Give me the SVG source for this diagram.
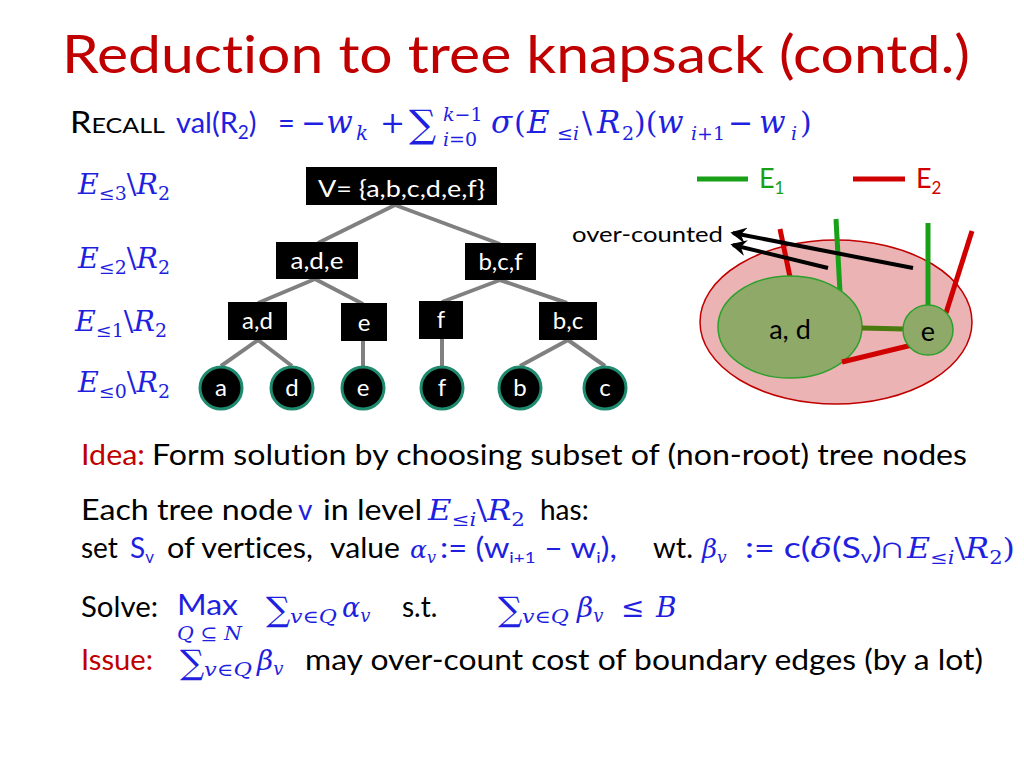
<svg xmlns="http://www.w3.org/2000/svg" width="1024" height="768" viewBox="0 0 1024 768">
<defs>
<style>
.s{font-family:Lato,"Open Sans","Liberation Sans",sans-serif;font-variant-ligatures:none}
.m{font-family:"DejaVu Serif","Liberation Serif",serif;font-style:italic}
.mu{font-family:"DejaVu Serif","Liberation Serif",serif;font-style:normal}
.b{fill:#1f1fe0}
.r{fill:#c00000}
.k{fill:#000}
.w{fill:#fff}
.box{fill:#000}
.leaf{fill:#000;stroke:#1e8a6e;stroke-width:3}
.edge{stroke:#808080;stroke-width:4;fill:none}
.g{stroke:#19a019;stroke-width:5}
.rd{stroke:#d00000;stroke-width:5}
</style>
<marker id="ah" viewBox="0 0 12 12" refX="10" refY="6" markerWidth="4" markerHeight="4" orient="auto" markerUnits="strokeWidth">
<path d="M12,6 L0,0 L4,6 L0,12 Z" fill="#000"/>
</marker>
</defs>
<rect width="1024" height="768" fill="#fff"/>

<text class="s r" x="62" y="73" font-size="52" textLength="908" lengthAdjust="spacingAndGlyphs">Reduction to tree knapsack (contd.)</text>

<g id="recall">
<text class="s k" x="70" y="133" font-size="30" textLength="95" lengthAdjust="spacingAndGlyphs">R<tspan font-size="22">ECALL</tspan></text>
<text class="s b" x="176" y="133" font-size="29">val(R<tspan font-size="19" dy="6">2</tspan><tspan dy="-6">)</tspan></text>
<text class="s b" x="278" y="133" font-size="29">=</text>
<text class="mu b" x="301" y="133" font-size="30">−<tspan class="m" font-size="31">w</tspan></text>
<text class="m b" x="356" y="140" font-size="20">k</text>
<text class="mu b" x="380" y="133" font-size="30">+</text>
<text class="mu b" x="409" y="137" font-size="38">∑</text>
<text class="m b" x="443" y="121" font-size="19">k<tspan class="mu">−1</tspan></text>
<text class="m b" x="443" y="146" font-size="19">i<tspan class="mu">=0</tspan></text>
<text class="m b" x="491" y="133" font-size="31">σ</text>
<text class="mu b" x="514" y="133" font-size="30">(</text>
<text class="m b" x="527" y="133" font-size="31">E</text>
<text class="mu b" x="557" y="140" font-size="19">≤<tspan class="m">i</tspan></text>
<text class="mu b" x="582" y="133" font-size="30">\</text>
<text class="m b" x="597" y="133" font-size="31">R</text>
<text class="mu b" x="622" y="140" font-size="19">2</text>
<text class="mu b" x="634" y="133" font-size="30">)(</text>
<text class="m b" x="657" y="133" font-size="31">w</text>
<text class="m b" x="691" y="140" font-size="19">i<tspan class="mu">+1</tspan></text>
<text class="mu b" x="728" y="133" font-size="30">−</text>
<text class="m b" x="759" y="133" font-size="31">w</text>
<text class="m b" x="791" y="140" font-size="19">i</text>
<text class="mu b" x="800" y="133" font-size="30">)</text>
</g>

<g id="levels">
<text class="m b" x="78" y="194" font-size="27" textLength="92" lengthAdjust="spacingAndGlyphs">E<tspan class="mu" font-size="18" dy="6">≤3</tspan><tspan class="mu" dy="-6">\</tspan>R<tspan class="mu" font-size="18" dy="6">2</tspan></text>
<text class="m b" x="78" y="268" font-size="27" textLength="92" lengthAdjust="spacingAndGlyphs">E<tspan class="mu" font-size="18" dy="6">≤2</tspan><tspan class="mu" dy="-6">\</tspan>R<tspan class="mu" font-size="18" dy="6">2</tspan></text>
<text class="m b" x="75" y="331" font-size="27" textLength="92" lengthAdjust="spacingAndGlyphs">E<tspan class="mu" font-size="18" dy="6">≤1</tspan><tspan class="mu" dy="-6">\</tspan>R<tspan class="mu" font-size="18" dy="6">2</tspan></text>
<text class="m b" x="78" y="392" font-size="27" textLength="92" lengthAdjust="spacingAndGlyphs">E<tspan class="mu" font-size="18" dy="6">≤0</tspan><tspan class="mu" dy="-6">\</tspan>R<tspan class="mu" font-size="18" dy="6">2</tspan></text>
</g>

<g id="connectors">
<line class="edge" x1="395" y1="205" x2="318" y2="243"/>
<line class="edge" x1="395" y1="205" x2="500" y2="244"/>
<line class="edge" x1="315" y1="279" x2="258" y2="303"/>
<line class="edge" x1="315" y1="279" x2="363" y2="304"/>
<line class="edge" x1="500" y1="280" x2="442" y2="302"/>
<line class="edge" x1="500" y1="280" x2="567" y2="303"/>
<line class="edge" x1="258" y1="340" x2="221" y2="366"/>
<line class="edge" x1="258" y1="340" x2="292" y2="366"/>
<line class="edge" x1="363" y1="341" x2="363" y2="367"/>
<line class="edge" x1="442" y1="339" x2="442" y2="367"/>
<line class="edge" x1="568" y1="340" x2="520" y2="366"/>
<line class="edge" x1="568" y1="340" x2="605" y2="366"/>
</g>

<g id="n-root"><rect class="box" x="306" y="167" width="191" height="38"/><text class="s w" x="401.5" y="197" font-size="24" text-anchor="middle" textLength="167" lengthAdjust="spacingAndGlyphs">V= {a,b,c,d,e,f}</text></g>
<g id="n-ade"><rect class="box" x="276" y="242" width="82" height="37"/><text class="s w" x="317" y="269" font-size="24" text-anchor="middle" textLength="53" lengthAdjust="spacingAndGlyphs">a,d,e</text></g>
<g id="n-bcf"><rect class="box" x="465" y="243" width="71" height="37"/><text class="s w" x="500.5" y="270" font-size="24" text-anchor="middle">b,c,f</text></g>
<g id="n-ad"><rect class="box" x="228" y="302" width="59" height="38"/><text class="s w" x="257.5" y="329" font-size="24" text-anchor="middle">a,d</text></g>
<g id="n-e1"><rect class="box" x="341" y="303" width="46" height="38"/><text class="s w" x="364" y="331" font-size="24" text-anchor="middle">e</text></g>
<g id="n-f1"><rect class="box" x="419" y="301" width="44" height="38"/><text class="s w" x="441" y="328" font-size="24" text-anchor="middle">f</text></g>
<g id="n-bc"><rect class="box" x="539" y="302" width="58" height="38"/><text class="s w" x="568" y="329" font-size="24" text-anchor="middle">b,c</text></g>

<g id="leaf-a"><circle class="leaf" cx="221" cy="388" r="21"/><text class="s w" x="221" y="396" font-size="24" text-anchor="middle">a</text></g>
<g id="leaf-d"><circle class="leaf" cx="292" cy="388" r="21"/><text class="s w" x="292" y="396" font-size="24" text-anchor="middle">d</text></g>
<g id="leaf-e"><circle class="leaf" cx="363" cy="388" r="21"/><text class="s w" x="363" y="396" font-size="24" text-anchor="middle">e</text></g>
<g id="leaf-f"><circle class="leaf" cx="442" cy="388" r="21"/><text class="s w" x="442" y="396" font-size="24" text-anchor="middle">f</text></g>
<g id="leaf-b"><circle class="leaf" cx="520" cy="388" r="21"/><text class="s w" x="520" y="396" font-size="24" text-anchor="middle">b</text></g>
<g id="leaf-c"><circle class="leaf" cx="605" cy="388" r="21"/><text class="s w" x="605" y="396" font-size="24" text-anchor="middle">c</text></g>

<g id="legend">
<line class="g" x1="697" y1="179" x2="748" y2="179"/>
<text class="s" x="759" y="188" font-size="27" fill="#19a019">E<tspan font-size="17" dy="6">1</tspan></text>
<line class="rd" x1="853" y1="179" x2="905" y2="179"/>
<text class="s" x="916" y="188" font-size="27" fill="#d00000">E<tspan font-size="17" dy="6">2</tspan></text>
</g>

<g id="graph">
<ellipse cx="836" cy="322" rx="136" ry="82" fill="#ebb3b3" stroke="#c00000" stroke-width="1.5"/>
<line class="rd" x1="780" y1="229" x2="790" y2="277"/>
<line class="g" x1="836" y1="219" x2="840" y2="292"/>
<line class="g" x1="928" y1="223" x2="928" y2="307"/>
<line class="rd" x1="972" y1="231" x2="946" y2="313"/>
<g id="n-ad-set"><ellipse cx="790" cy="327" rx="72" ry="51" fill="#8faa68" stroke="#2ca02c" stroke-width="1.5"/><text class="s k" x="790" y="339" font-size="27" text-anchor="middle">a, d</text></g>
<line x1="862" y1="328" x2="904" y2="329" stroke="#4b7a10" stroke-width="5"/>
<line class="rd" x1="842" y1="362" x2="912" y2="345"/>
<g id="n-e-set"><circle cx="928" cy="330" r="25" fill="#8faa68" stroke="#2ca02c" stroke-width="1.5"/><text class="s k" x="928" y="341" font-size="27" text-anchor="middle">e</text></g>
<text class="s k" x="572" y="242" font-size="22" textLength="151" lengthAdjust="spacingAndGlyphs">over-counted</text>
<line x1="913" y1="268" x2="733" y2="233" stroke="#000" stroke-width="4" marker-end="url(#ah)"/>
<line x1="828" y1="268" x2="733" y2="245" stroke="#000" stroke-width="4" marker-end="url(#ah)"/>
</g>

<g id="body">
<text class="s r" x="81" y="465" font-size="28" textLength="64" lengthAdjust="spacingAndGlyphs">Idea:</text>
<text class="s k" x="152" y="465" font-size="28" textLength="815" lengthAdjust="spacingAndGlyphs">Form solution by choosing subset of (non-root) tree nodes</text>

<text class="s k" x="81" y="520" font-size="28" textLength="212" lengthAdjust="spacingAndGlyphs">Each tree node</text>
<text class="s b" x="298" y="520" font-size="28">v</text>
<text class="s k" x="323" y="520" font-size="28" textLength="99" lengthAdjust="spacingAndGlyphs">in level</text>
<text class="m b" x="428" y="520" font-size="27" textLength="97" lengthAdjust="spacingAndGlyphs">E<tspan class="mu" font-size="18" dy="6">≤</tspan><tspan font-size="18">i</tspan><tspan class="mu" dy="-6">\</tspan>R<tspan class="mu" font-size="18" dy="6">2</tspan></text>
<text class="s k" x="540" y="520" font-size="28">has:</text>

<text class="s k" x="81" y="558" font-size="28">set</text>
<text class="s b" x="130" y="558" font-size="28">S<tspan font-size="17" dy="5">v</tspan></text>
<text class="s k" x="167" y="558" font-size="28" textLength="146" lengthAdjust="spacingAndGlyphs">of vertices,</text>
<text class="s k" x="330" y="558" font-size="28" textLength="70" lengthAdjust="spacingAndGlyphs">value</text>
<text class="m b" x="410" y="558" font-size="25">α<tspan font-size="16" dy="5">v</tspan></text>
<text class="s b" x="440" y="558" font-size="28" textLength="177" lengthAdjust="spacingAndGlyphs">:= (w<tspan font-size="16" dy="5">i+1</tspan><tspan dy="-5"> – w</tspan><tspan font-size="16" dy="5">i</tspan><tspan dy="-5">),</tspan></text>
<text class="s k" x="653" y="558" font-size="28" textLength="40" lengthAdjust="spacingAndGlyphs">wt.</text>
<text class="m b" x="702" y="558" font-size="26">β<tspan font-size="17" dy="5">v</tspan></text>
<text class="s b" x="745" y="558" font-size="28" textLength="158" lengthAdjust="spacingAndGlyphs">:= c(<tspan class="m">δ</tspan>(S<tspan font-size="17" dy="5">v</tspan><tspan dy="-5">)∩</tspan></text>
<text class="m b" x="907" y="558" font-size="27" textLength="108" lengthAdjust="spacingAndGlyphs">E<tspan class="mu" font-size="18" dy="6">≤</tspan><tspan font-size="18">i</tspan><tspan class="mu" dy="-6">\</tspan>R<tspan class="mu" font-size="18" dy="6">2</tspan><tspan class="mu" dy="-6">)</tspan></text>

<text class="s k" x="81" y="617" font-size="28" textLength="77" lengthAdjust="spacingAndGlyphs">Solve:</text>
<text class="s b" x="177" y="615" font-size="28" textLength="61" lengthAdjust="spacingAndGlyphs">Max</text>
<text class="m b" x="177" y="640" font-size="18" textLength="65" lengthAdjust="spacingAndGlyphs">Q <tspan class="mu">⊆</tspan> N</text>
<text class="mu b" x="266" y="621" font-size="34">∑</text>
<text class="m b" x="290" y="623" font-size="18" textLength="47" lengthAdjust="spacingAndGlyphs">v<tspan class="mu">∈</tspan>Q</text>
<text class="m b" x="342" y="617" font-size="27">α<tspan font-size="18" dy="5">v</tspan></text>
<text class="s k" x="402" y="617" font-size="28">s.t.</text>
<text class="mu b" x="498" y="621" font-size="34">∑</text>
<text class="m b" x="522" y="623" font-size="18" textLength="47" lengthAdjust="spacingAndGlyphs">v<tspan class="mu">∈</tspan>Q</text>
<text class="m b" x="577" y="617" font-size="28">β<tspan font-size="18" dy="5">v</tspan></text>
<text class="mu b" x="621" y="617" font-size="28">≤</text>
<text class="m b" x="656" y="617" font-size="28">B</text>

<text class="s r" x="81" y="670" font-size="28" textLength="72" lengthAdjust="spacingAndGlyphs">Issue:</text>
<text class="mu b" x="180" y="674" font-size="34">∑</text>
<text class="m b" x="204" y="676" font-size="18" textLength="48" lengthAdjust="spacingAndGlyphs">v<tspan class="mu">∈</tspan>Q</text>
<text class="m b" x="257" y="670" font-size="28">β<tspan font-size="18" dy="5">v</tspan></text>
<text class="s k" x="305" y="670" font-size="28" textLength="678" lengthAdjust="spacingAndGlyphs">may over-count cost of boundary edges (by a lot)</text>
</g>
</svg>
